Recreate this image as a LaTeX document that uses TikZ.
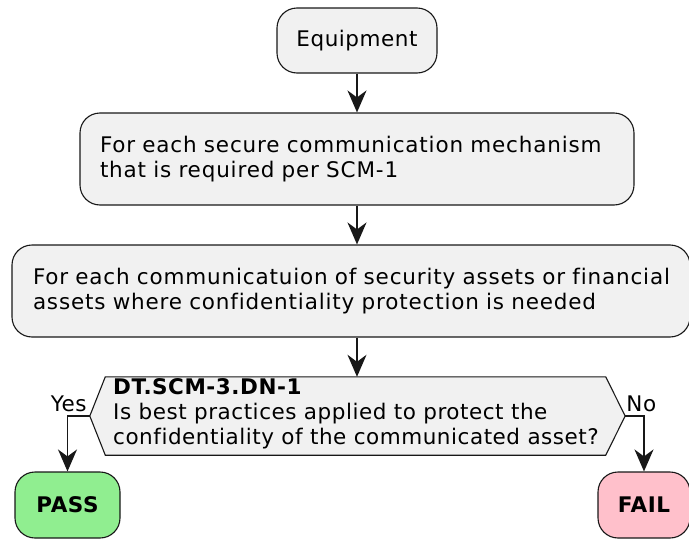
\documentclass[tikz,border=0pt]{standalone}
\usepackage{fontspec}
\setmainfont[Ligatures=CommonOff, LetterSpace=2.5]{DejaVu Sans}
\usetikzlibrary{arrows.meta,calc}

\definecolor{boxfill}{HTML}{F1F1F1}
\definecolor{boxline}{HTML}{181818}
\definecolor{passfill}{HTML}{90EE90}
\definecolor{failfill}{HTML}{FFC0CB}

\tikzset{
  x=1pt, y=-1pt,
  every node/.style={font=\fontsize{21.5}{25}\selectfont, text=black},
  activity/.style={draw=boxline, fill=boxfill, line width=1.1pt, rounded corners=20pt,
    inner ysep=0pt, minimum height=92pt, align=left,
    font=\fontsize{21.5}{25}\selectfont\addfontfeature{LetterSpace=3.9}},
  endbox/.style={draw=boxline, line width=1.1pt, rounded corners=20pt,
    minimum height=66pt, font=\fontsize{21.5}{25}\selectfont\bfseries},
  flow/.style={draw=boxline, line width=1.6pt,
    -{Stealth[length=22pt, width=19pt, inset=7pt]}},
  edgelabel/.style={inner sep=0pt}
}

\begin{document}
\begin{tikzpicture}
\useasboundingbox (0,0) rectangle (689,541);
\begin{scope}
\clip (0,0) rectangle (689,541);

% start activity
\node[activity, minimum width=160pt, minimum height=65pt, align=center,
  font=\fontsize{21.5}{25}\selectfont] (equip) at (357,40.5) {Equipment};

% loop activities
\node[activity, minimum width=554pt, text width=514pt, inner xsep=20pt] (scm) at (357,159)
  {For each secure communication mechanism\\that is required per SCM-1};
\node[activity, minimum width=678pt, text width=636pt, inner xsep=21pt] (comm) at (351,291)
  {For each communicatuion of security assets or financial\\assets where confidentiality protection is needed};

% decision
\node[minimum width=500pt, minimum height=78pt, inner sep=0pt] (dec) at (355.5,416) {};
\draw[fill=boxfill, draw=boxline, line width=1.1pt]
  (dec.north west) -- (dec.north east) -- ($(dec.east)+(19.5,0)$) coordinate (nopt)
  -- (dec.south east) -- (dec.south west) -- ($(dec.west)+(-15.5,0)$) coordinate (yespt) -- cycle;
\node[anchor=west, align=left, inner sep=0pt] (dectext) at (113,414)
  {\textbf{DT.SCM-3.DN-1}\\Is best practices applied to protect the\\confidentiality of the communicated asset?};

% outcomes
\node[endbox, fill=passfill, minimum width=105pt] (pass) at (67.5,505) {PASS};
\node[endbox, fill=failfill, minimum width=92pt] (fail) at (644,505) {FAIL};

% connectors
\draw[flow] (equip) -- (equip |- scm.north);
\draw[flow] (equip |- scm.south) -- (equip |- comm.north);
\draw[flow] (equip |- comm.south) -- (equip |- dec.north);
\draw[flow] (yespt) -| (pass.north);
\draw[flow] (nopt) -| (fail.north);

\node[edgelabel, anchor=south east] (yes) at ($(yespt)+(-3,-4)$) {Yes};
\node[edgelabel, anchor=south west] (no) at ($(nopt)+(1,-4)$) {No};
\end{scope}
\end{tikzpicture}
\end{document}
